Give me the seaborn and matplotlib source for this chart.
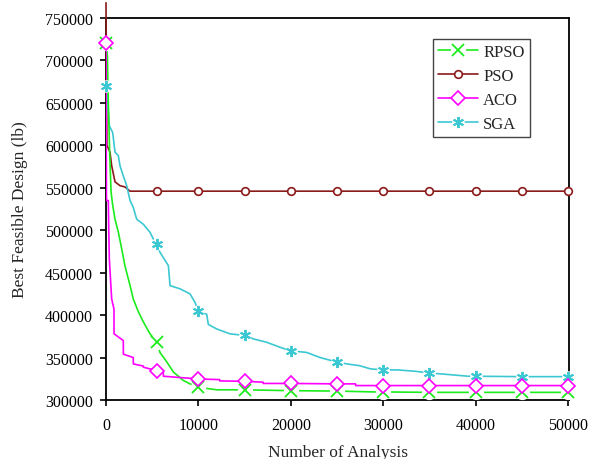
import numpy as np
import pandas as pd
import seaborn as sns
import matplotlib
matplotlib.use("Agg")
import matplotlib.pyplot as plt
from matplotlib.lines import Line2D
from matplotlib.legend_handler import HandlerTuple

# ---------------- data ----------------
MARKER_X = [0, 5500, 10000, 15000, 20000, 25000, 30000, 35000, 40000, 45000, 50000]

rpso_x = [0, 150, 250, 400, 550, 720, 975, 1330, 1700, 2050, 2600, 2950, 3500, 4040, 4760,
          5500, 5840, 6570, 7290, 8370, 9090, 10000, 11000, 12000, 15000, 20000, 25000,
          29000, 30000, 35000, 40000, 45000, 50000]
rpso_y = [720000, 705000, 650000, 590000, 545000, 530000, 513000, 498000, 478000, 458000,
          435000, 419000, 404000, 392000, 378000, 368000, 356000, 345000, 333000, 323000,
          319000, 315000, 313500, 312000, 312000, 311000, 310500, 309500, 309500, 309000,
          309000, 309000, 309000]

pso_x = [0, 100, 430, 615, 975, 1515, 2050, 2600, 5500, 10000, 15000, 20000, 25000, 30000,
         35000, 40000, 45000, 50000]
pso_y = [768000, 600000, 592000, 576000, 557000, 552500, 551000, 546000, 546000, 546000,
         546000, 546000, 546000, 546000, 546000, 546000, 546000, 546000]

aco_x = [0, 50, 250, 300, 360, 500, 615, 865, 870, 1870, 1880, 2950, 2960, 4040, 4050,
         5500, 6200, 6210, 10000, 12300, 12310, 15000, 17000, 17010, 20000, 25000, 27000,
         27010, 30000, 35000, 40000, 45000, 50000]
aco_y = [720000, 535000, 535000, 500000, 466000, 440000, 419000, 407000, 378000, 370000,
         354000, 350000, 342500, 340000, 338600, 334600, 332000, 328000, 324800, 324000,
         322500, 322000, 321000, 319500, 319500, 319000, 319000, 317000, 317000, 317000,
         317000, 317000, 317000]

sga_x = [0, 140, 360, 725, 975, 1330, 1515, 1870, 2240, 2600, 2950, 3320, 4040, 4760, 5200,
         5500, 5840, 6750, 6930, 8000, 9090, 9630, 10000, 10900, 11070, 11980, 13400, 15000,
         15940, 17390, 18830, 20000, 21720, 23160, 24400, 25000, 26050, 27400, 28650, 30000,
         31600, 33400, 35000, 36300, 39200, 40000, 45000, 50000]
sga_y = [670000, 658500, 623000, 615000, 592000, 588000, 576000, 564000, 552500, 535000,
         527000, 513000, 507000, 497600, 488000, 484000, 474000, 458300, 434700, 431000,
         425000, 415000, 405000, 401000, 389000, 383700, 378000, 376000, 372000, 368000,
         362100, 358000, 356000, 350000, 346400, 345000, 342500, 340500, 336600, 335500,
         335400, 333900, 331800, 330700, 328000, 328000, 327500, 327500]

series_names = ["RPSO", "PSO", "ACO", "SGA"]
x_ticks = [0, 10000, 20000, 30000, 40000, 50000]
x_tick_labels = ["0", "10000", "20000", "30000", "40000", "50000"]
y_ticks = [300000, 350000, 400000, 450000, 500000, 550000, 600000, 650000, 700000, 750000]
y_tick_labels = ["300000", "350000", "400000", "450000", "500000", "550000", "600000",
                 "650000", "700000", "750000"]

# ---------------- style ----------------
sns.set_theme(style="white")
plt.rcParams["font.family"] = ["Liberation Serif", "DejaVu Serif"]
plt.rcParams["axes.edgecolor"] = "black"

fig = plt.figure(figsize=(5.9, 4.6), dpi=100)
ax = fig.add_axes([106 / 590, 1 - 401 / 460, (569 - 106) / 590, (401 - 19) / 460])

styles = {
    "RPSO": dict(color="#1CEB1C", marker="x", ms=9, mew=1.3, mfc="none", bg=11),
    "PSO": dict(color="#8B1A1A", marker="o", ms=5.5, mew=1.2, mfc="white", bg=5.5),
    "ACO": dict(color="#FF00FF", marker="D", ms=7, mew=1.2, mfc="white", bg=7),
    "SGA": dict(color="#3CC8D2", marker=(6, 2, 0), ms=8, mew=1.4, mfc="none", bg=9),
}
data = {"RPSO": (rpso_x, rpso_y), "PSO": (pso_x, pso_y),
        "ACO": (aco_x, aco_y), "SGA": (sga_x, sga_y)}

order = ["PSO", "SGA", "RPSO", "ACO"]
for z, name in enumerate(order):
    xs, ys = data[name]
    st = styles[name]
    df = pd.DataFrame({"x": xs, "y": ys})
    sns.lineplot(data=df, x="x", y="y", ax=ax, color=st["color"], lw=1.2,
                 estimator=None, sort=False, zorder=3 + z,
                 clip_on=(name != "PSO"))
    idx = [i for i, v in enumerate(xs) if v in MARKER_X and not (name == "PSO" and v == 0)]
    mdf = df.iloc[idx]
    # white backing that breaks the lines around each marker
    ax.plot(mdf["x"], mdf["y"], linestyle="none", marker="o", ms=st["bg"], mew=0,
            mfc="white", zorder=8 + 2 * z, clip_on=False)
    ax.plot(mdf["x"], mdf["y"], linestyle="none", marker=st["marker"], ms=st["ms"],
            mew=st["mew"], mec=st["color"], mfc=st["mfc"],
            zorder=9 + 2 * z, clip_on=False)

ax.set_xlim(0, 50100)
ax.set_ylim(300000, 750000)
ax.set_xticks(x_ticks)
ax.set_xticklabels(x_tick_labels)
ax.set_yticks(y_ticks)
ax.set_yticklabels(y_tick_labels)
ax.tick_params(axis="both", which="major", direction="out", length=4.5, width=1.2,
               colors="black", labelsize=11.5, bottom=True, left=True)
ax.tick_params(axis="y", pad=5)
ax.tick_params(axis="x", pad=8)
for sp in ax.spines.values():
    sp.set_linewidth(1.3)
    sp.set_color("black")
    sp.set_visible(True)

ax.set_xlabel("Number of Analysis", fontsize=12.5, labelpad=8)
ax.set_ylabel("Best Feasible Design (lb)", fontsize=12.5, labelpad=12)

handles = []
for name in series_names:
    st = styles[name]
    ln = Line2D([], [], color=st["color"], lw=1.2)
    bg = Line2D([], [], linestyle="none", marker="o", ms=st["bg"], mew=0, mfc="white")
    mk = Line2D([], [], linestyle="none", marker=st["marker"], ms=st["ms"], mew=st["mew"],
                mec=st["color"], mfc=st["mfc"])
    handles.append((ln, bg, mk))
leg = ax.legend(handles, series_names, loc="upper left", bbox_to_anchor=(0.706, 0.946),
                handler_map={tuple: HandlerTuple(ndivide=1)},
                fontsize=12, frameon=True, fancybox=False, edgecolor="#444444",
                framealpha=1, handlelength=2.4, handletextpad=0.3, labelspacing=0.48,
                borderpad=0.32, borderaxespad=0)
leg.get_frame().set_linewidth(1.0)

fig.savefig("out.png", dpi=100)
